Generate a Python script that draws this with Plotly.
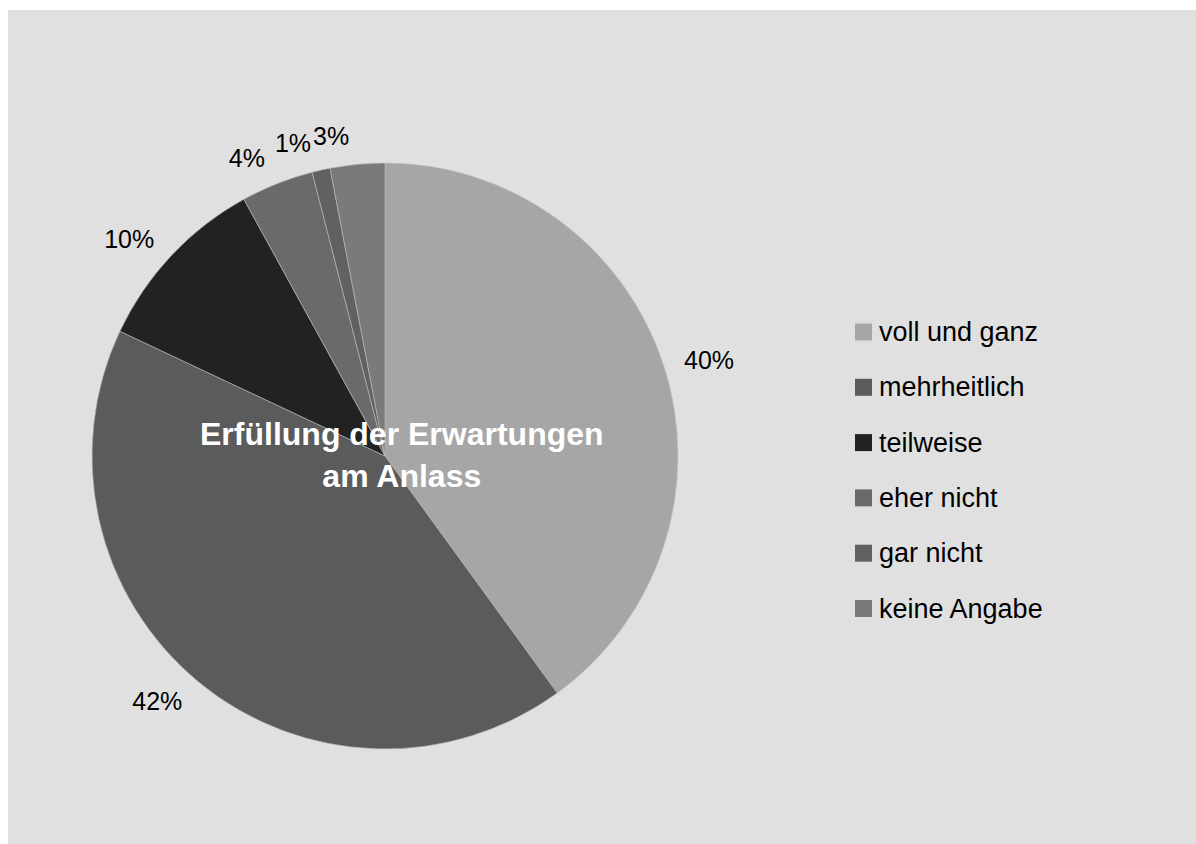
import plotly.graph_objects as go

labels = ["voll und ganz", "mehrheitlich", "teilweise", "eher nicht", "gar nicht", "keine Angabe"]
values = [40, 42, 10, 4, 1, 3]
colors = ["#a6a6a6", "#5b5b5b", "#222222", "#6a6a6a", "#616161", "#7a7a7a"]
title_text = "Erfüllung der Erwartungen<br>am Anlass"

W, H = 1196, 844
FONT = "Liberation Sans, Arial, sans-serif"

def px(x):
    return x / W

def py(y):
    return 1 - y / H

cx, cy, r = 385, 456, 293
r_lab = 307  # radius of the transparent pies that carry the outside labels

def dom(rad):
    return dict(x=[px(cx - rad), px(cx + rad)], y=[py(cy + rad), py(cy - rad)])

fig = go.Figure()

# one transparent pie per label, so each percentage sits freely outside its slice
for i in range(len(values)):
    fig.add_trace(go.Pie(
        labels=labels, values=values, sort=False, direction="clockwise", rotation=0,
        marker=dict(colors=["rgba(0,0,0,0)"] * len(values), line=dict(width=0)),
        textposition=["outside" if j == i else "none" for j in range(len(values))],
        texttemplate="%{percent:.0%}",
        textfont=dict(family=FONT, size=25, color="#000000"),
        showlegend=False, hoverinfo="skip", domain=dom(r_lab),
    ))

fig.add_trace(go.Pie(
    labels=labels, values=values, sort=False, direction="clockwise", rotation=0,
    marker=dict(colors=colors, line=dict(color="#bdbdbd", width=0.6)),
    textinfo="none", showlegend=False, hoverinfo="label+percent", domain=dom(r),
))

shapes = [
    dict(type="rect", xref="paper", yref="paper", x0=-0.01, x1=1.01, y0=py(10), y1=1.01,
         fillcolor="white", line=dict(width=0), layer="above"),
    dict(type="rect", xref="paper", yref="paper", x0=-0.01, x1=px(8), y0=-0.01, y1=1.01,
         fillcolor="white", line=dict(width=0), layer="above"),
]
annotations = [
    dict(text=title_text, x=px(402), y=py(455), xref="paper", yref="paper",
         xanchor="center", yanchor="middle", showarrow=False,
         font=dict(family=FONT, size=32, color="white", weight="bold")),
]

# legend built from the label / colour lists
leg_top, leg_step = 332, 55.3
for i, (lab, col) in enumerate(zip(labels, colors)):
    yc = leg_top + i * leg_step
    shapes.append(dict(type="rect", xref="paper", yref="paper",
                       x0=px(855), x1=px(872), y0=py(yc + 8.5), y1=py(yc - 8.5),
                       fillcolor=col, line=dict(width=0)))
    annotations.append(dict(text=lab, x=px(877), y=py(yc), xref="paper", yref="paper",
                            xanchor="left", yanchor="middle", showarrow=False,
                            font=dict(family=FONT, size=27, color="#000000")))

fig.update_layout(
    width=W, height=H,
    margin=dict(l=0, r=0, t=0, b=0),
    paper_bgcolor="#e0e0e0",
    plot_bgcolor="#e0e0e0",
    shapes=shapes,
    annotations=annotations,
    showlegend=False,
)

fig.write_html("out.html")
